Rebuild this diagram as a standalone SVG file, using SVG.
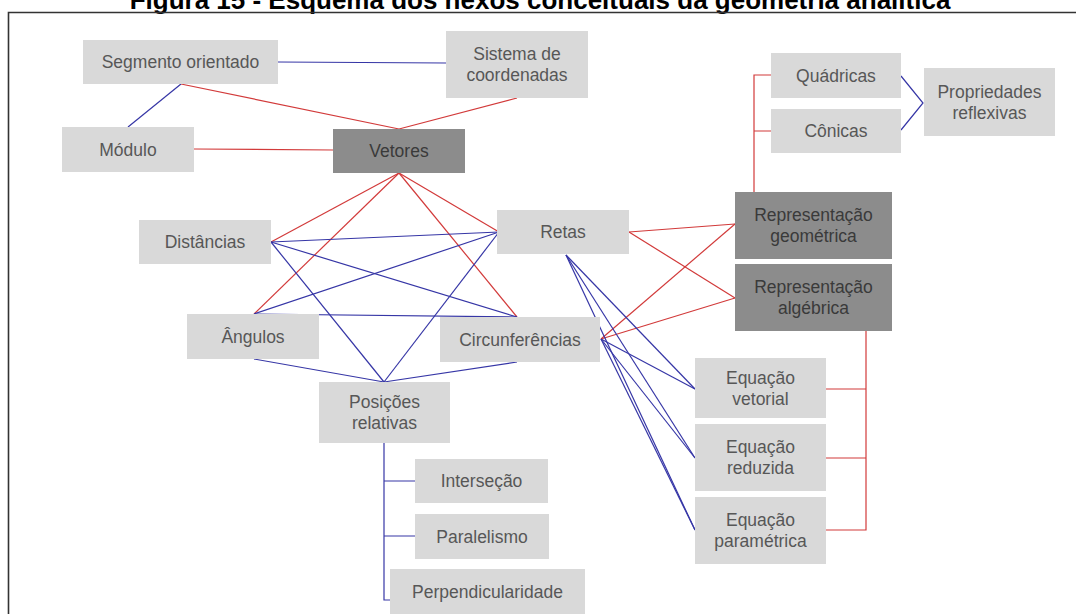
<svg xmlns="http://www.w3.org/2000/svg" width="1076" height="614" viewBox="0 0 1076 614">
<style>
.box{fill:#d9d9d9}
.dark{fill:#8c8c8c}
.t{font-family:"Liberation Sans",Arial,sans-serif;font-size:17.5px;fill:#575757;text-anchor:middle}
.td{font-family:"Liberation Sans",Arial,sans-serif;font-size:17.5px;fill:#3a3a3a;text-anchor:middle}
.r{stroke:#d23a3a;stroke-width:1.2;fill:none}
.b{stroke:#3636a6;stroke-width:1.2;fill:none}
.title{font-family:"Liberation Sans",Arial,sans-serif;font-size:26px;font-weight:bold;fill:#000;text-anchor:middle}
</style>
<rect width="1076" height="614" fill="#fff"/>
<text class="title" x="540" y="8.5">Figura 15 - Esquema dos nexos conceituais da geometria analítica</text>
<path d="M8.5,614 V12.5 H1076" stroke="#333" stroke-width="1.6" fill="none"/>
<g id="connectors">
<line class="b" x1="278" y1="62" x2="446" y2="63"/>
<line class="b" x1="181" y1="84" x2="128" y2="127"/>
<line class="r" x1="181" y1="84" x2="399" y2="129"/>
<line class="r" x1="517" y1="98" x2="399" y2="129"/>
<line class="r" x1="194" y1="149" x2="333" y2="150"/>
<line class="r" x1="399" y1="173" x2="271" y2="242"/>
<line class="r" x1="399" y1="173" x2="254" y2="314"/>
<line class="r" x1="399" y1="173" x2="499" y2="232"/>
<line class="r" x1="399" y1="173" x2="517" y2="317"/>
<line class="b" x1="271" y1="242" x2="499" y2="232"/>
<line class="b" x1="271" y1="242" x2="517" y2="317"/>
<line class="b" x1="271" y1="242" x2="384" y2="382"/>
<line class="b" x1="254" y1="314" x2="499" y2="232"/>
<line class="b" x1="254" y1="314" x2="517" y2="317"/>
<line class="b" x1="499" y1="232" x2="384" y2="382"/>
<line class="b" x1="254" y1="359" x2="384" y2="382"/>
<line class="b" x1="517" y1="362" x2="384" y2="382"/>
<line class="r" x1="629" y1="232" x2="735" y2="224"/>
<line class="r" x1="629" y1="232" x2="735" y2="298"/>
<line class="r" x1="601" y1="339" x2="735" y2="224"/>
<line class="r" x1="601" y1="339" x2="735" y2="298"/>
<line class="b" x1="566" y1="255" x2="695" y2="389"/>
<line class="b" x1="566" y1="255" x2="695" y2="458"/>
<line class="b" x1="566" y1="255" x2="695" y2="530"/>
<line class="b" x1="601" y1="339" x2="695" y2="389"/>
<line class="b" x1="601" y1="339" x2="695" y2="458"/>
<line class="b" x1="601" y1="339" x2="695" y2="530"/>
<polyline class="b" points="901,76 923,103 901,130"/>
<path class="r" d="M771,75 H754 V192 M754,131 H771"/>
<path class="r" d="M866,331 V530 H826 M826,389 H866 M826,458 H866"/>
<path class="b" d="M384,443 V600 H390 M384,481 H415 M384,536 H415" stroke="#45458f"/>
</g>
<g id="seg"><rect class="box" x="83" y="40" width="195" height="44"/><text class="t" x="180.5" y="68">Segmento orientado</text></g>
<g id="sis"><rect class="box" x="446" y="31" width="142" height="67"/><text class="t" x="517" y="60">Sistema de</text><text class="t" x="517" y="81">coordenadas</text></g>
<g id="mod"><rect class="box" x="62" y="127" width="132" height="45"/><text class="t" x="128" y="155.5">Módulo</text></g>
<g id="vet"><rect class="dark" x="333" y="129" width="132" height="44"/><text class="td" x="399" y="157">Vetores</text></g>
<g id="qua"><rect class="box" x="771" y="53" width="130" height="45"/><text class="t" x="836" y="81.5">Quádricas</text></g>
<g id="con"><rect class="box" x="771" y="109" width="130" height="44"/><text class="t" x="836" y="137">Cônicas</text></g>
<g id="prop"><rect class="box" x="924" y="68" width="131" height="68"/><text class="t" x="989.5" y="97.5">Propriedades</text><text class="t" x="989.5" y="118.5">reflexivas</text></g>
<g id="dist"><rect class="box" x="139" y="220" width="132" height="44"/><text class="t" x="205" y="248">Distâncias</text></g>
<g id="retas"><rect class="box" x="497" y="210" width="132" height="44"/><text class="t" x="563" y="238">Retas</text></g>
<g id="repg"><rect class="dark" x="735" y="192" width="157" height="67"/><text class="td" x="813.5" y="221">Representação</text><text class="td" x="813.5" y="242">geométrica</text></g>
<g id="repa"><rect class="dark" x="735" y="264" width="157" height="67"/><text class="td" x="813.5" y="293">Representação</text><text class="td" x="813.5" y="314">algébrica</text></g>
<g id="ang"><rect class="box" x="187" y="314" width="132" height="45"/><text class="t" x="253" y="342.5">Ângulos</text></g>
<g id="circ"><rect class="box" x="440" y="317" width="160" height="45"/><text class="t" x="520" y="345.5">Circunferências</text></g>
<g id="pos"><rect class="box" x="319" y="382" width="131" height="61"/><text class="t" x="384.5" y="408">Posições</text><text class="t" x="384.5" y="429">relativas</text></g>
<g id="eqv"><rect class="box" x="695" y="358" width="131" height="60"/><text class="t" x="760.5" y="384">Equação</text><text class="t" x="760.5" y="405">vetorial</text></g>
<g id="eqr"><rect class="box" x="695" y="424" width="131" height="67"/><text class="t" x="760.5" y="453">Equação</text><text class="t" x="760.5" y="474">reduzida</text></g>
<g id="eqp"><rect class="box" x="695" y="497" width="131" height="67"/><text class="t" x="760.5" y="526">Equação</text><text class="t" x="760.5" y="547">paramétrica</text></g>
<g id="int"><rect class="box" x="415" y="459" width="133" height="44"/><text class="t" x="481.5" y="487">Interseção</text></g>
<g id="par"><rect class="box" x="415" y="514" width="134" height="45"/><text class="t" x="482" y="542.5">Paralelismo</text></g>
<g id="perp"><rect class="box" x="390" y="569" width="195" height="45"/><text class="t" x="487.5" y="597.5">Perpendicularidade</text></g>
</svg>
